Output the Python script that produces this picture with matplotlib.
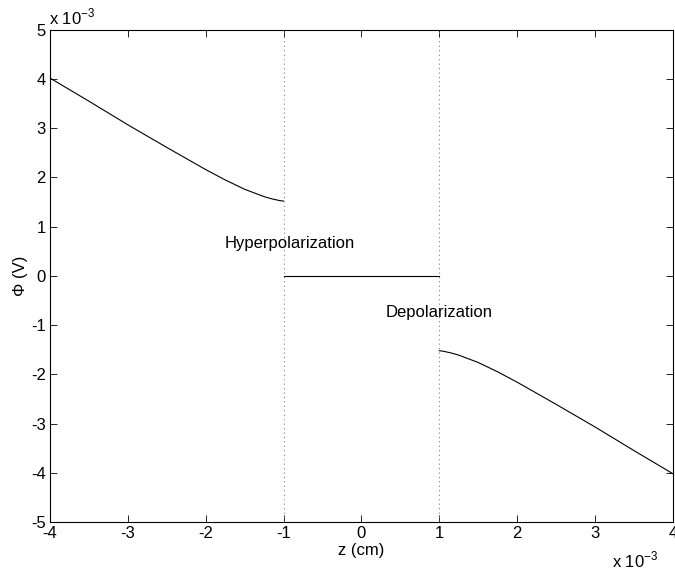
import numpy as np
import matplotlib
matplotlib.use("Agg")
import matplotlib.pyplot as plt

plt.rcParams['font.family'] = ['Liberation Sans', 'DejaVu Sans']
plt.rcParams['axes.unicode_minus'] = False

# potential, in units of 1e-3 V, position in units of 1e-3 cm
z_left = [-4.0, -3.5, -3.0, -2.5, -2.0, -1.75, -1.5, -1.35, -1.25, -1.15, -1.05, -1.0]
phi_left = [4.02, 3.55, 3.07, 2.61, 2.16, 1.95, 1.76, 1.67, 1.61, 1.565, 1.53, 1.52]
z_mid = [-1.0, 1.0]
phi_mid = [0.0, 0.0]
z_right = [-v for v in z_left[::-1]]
phi_right = [-v for v in phi_left[::-1]]
boundaries = [-1.0, 1.0]
xticks = [-4, -3, -2, -1, 0, 1, 2, 3, 4]
yticks = [-5, -4, -3, -2, -1, 0, 1, 2, 3, 4, 5]

fs = 12
fig = plt.figure(figsize=(6.75, 5.73), dpi=100)
ax = fig.add_axes([0.074, 0.089, 0.923, 0.859])

ax.plot(z_left, phi_left, color="black", lw=0.8)
ax.plot(z_mid, phi_mid, color="black", lw=0.8)
ax.plot(z_right, phi_right, color="black", lw=0.8)
for b in boundaries:
    ax.plot([b, b], [-5, 5], color="gray", lw=0.8, ls=(0, (1, 3)))

ax.text(-1.76, 0.66, "Hyperpolarization", fontsize=fs, va="center", ha="left")
ax.text(0.31, -0.75, "Depolarization", fontsize=fs, va="center", ha="left")

ax.set_xlim(-4, 4)
ax.set_ylim(-5, 5)
ax.set_xticks(xticks)
ax.set_yticks(yticks)
ax.tick_params(direction="in", top=True, right=True, labelsize=fs, length=5, width=0.6,
               pad=3)
for s in ax.spines.values():
    s.set_linewidth(0.8)
ax.set_xlabel("z (cm)", fontsize=fs, labelpad=1)
ax.set_ylabel("Φ (V)", fontsize=fs, labelpad=2)

fig.text(0.072, 0.952, r"x 10$^{\mathregular{-3}}$", fontsize=fs, ha="left", va="bottom")
fig.text(0.907, 0.005, r"x 10$^{\mathregular{-3}}$", fontsize=fs, ha="left", va="bottom")

fig.savefig("out.png", dpi=100)
